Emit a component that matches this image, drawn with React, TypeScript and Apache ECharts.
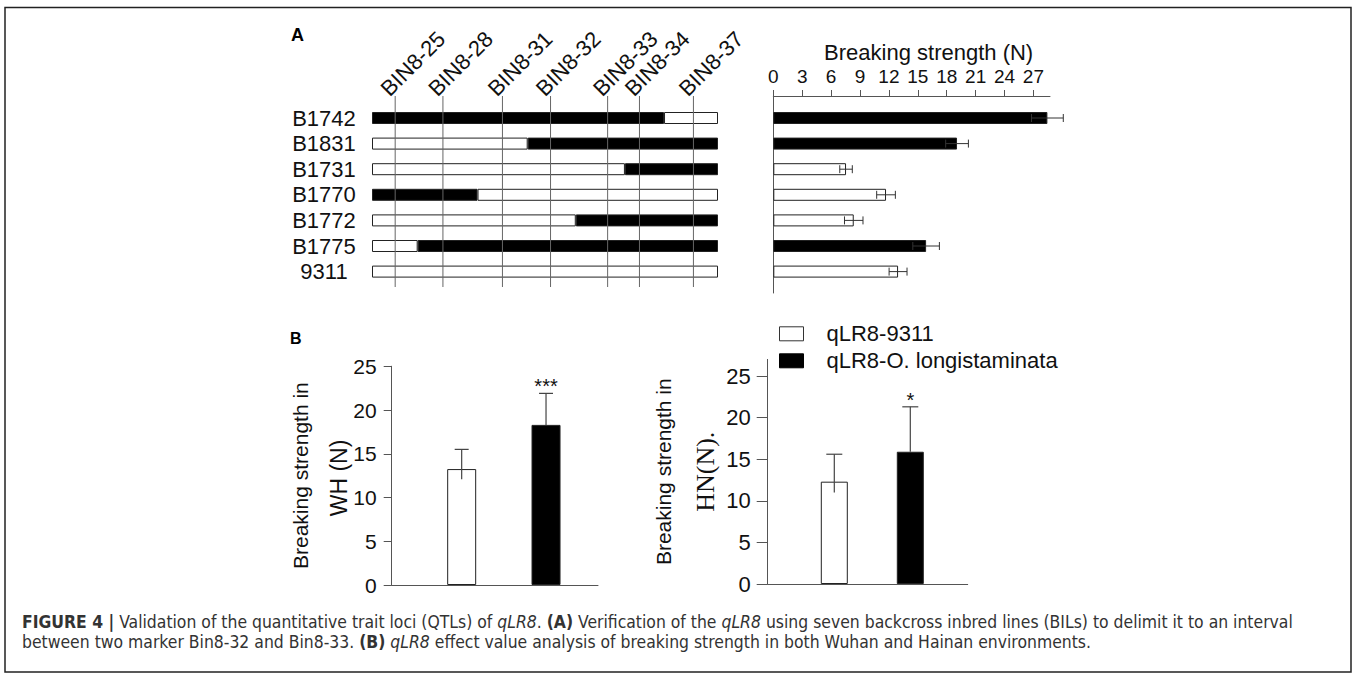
import React, { useEffect, useRef } from "react";
import * as echarts from "echarts";

const FONT = "Liberation Sans, Arial, Helvetica, sans-serif";
const SERIF = "Liberation Serif, Times New Roman, serif";
const NARROW = "Liberation Sans Narrow, DejaVu Sans Condensed, Liberation Sans, sans-serif";

// Panel A — backcross inbred lines and their genotype segments (0–100 along the interval)
const lines = ["B1742", "B1831", "B1731", "B1770", "B1772", "B1775", "9311"];
const boundary = [84.4, 45.0, 73.1, 30.5, 58.9, 13.2, 100];
const firstSegBlack = [true, false, false, true, false, false, false];
const markerNames = ["BIN8-25", "BIN8-28", "BIN8-31", "BIN8-32", "BIN8-33", "BIN8-34", "BIN8-37"];
const markerPos = [6.7, 20.5, 37.7, 51.6, 68.1, 77.3, 92.9];

// Panel A — breaking strength (N) per line
const strengthMean = [28.45, 19.07, 7.55, 11.7, 8.35, 15.86, 12.95];
const strengthErr = [1.65, 1.18, 0.65, 0.97, 0.96, 1.38, 0.93];
const strongAllele = [true, true, false, false, false, true, false];
const ticksA = [0, 3, 6, 9, 12, 15, 18, 21, 24, 27];

// Panel B — qLR8 effect
const genotypes = ["qLR8-9311", "qLR8-O. longistaminata"];
const whMean = [13.25, 18.3];
const whUp = [2.25, 3.6];
const whDown = [1.15, 0];
const whSig = ["", "***"];
const hnMean = [12.3, 15.9];
const hnUp = [3.3, 5.4];
const hnDown = [1.3, 0];
const hnSig = ["", "*"];
const ticksB = [0, 5, 10, 15, 20, 25];

const captionLine1 =
  "{b|FIGURE 4 |} Validation of the quantitative trait loci (QTLs) of {i|qLR8}. {b|(A)} Verification of the {i|qLR8} using seven backcross inbred lines (BILs) to delimit it to an interval";
const captionLine2 =
  "between two marker Bin8-32 and Bin8-33. {b|(B)} {i|qLR8} effect value analysis of breaking strength in both Wuhan and Hainan environments.";

const AXIS_COLOR = "#555";
const TEXT_COLOR = "#111";
const CAP_SIZE = 17.4;

function hiddenValue(gridIndex: number, min: number, max: number, extra: any = {}) {
  return { type: "value", gridIndex, min, max, show: false, ...extra };
}

// value axis that only carries a name (no line, ticks or labels)
function nameOnlyValue(gridIndex: number, min: number, max: number, name: string, nameGap: number, textStyle: any) {
  return {
    type: "value",
    gridIndex,
    min,
    max,
    axisLine: { show: false },
    axisTick: { show: false },
    axisLabel: { show: false },
    splitLine: { show: false },
    name,
    nameLocation: "middle",
    nameRotate: 90,
    nameGap,
    nameTextStyle: textStyle,
  };
}

function vErrorRender(sig: string[], cap: number) {
  return (params: any, api: any) => {
    const i = api.value(0);
    const m = api.value(1);
    const up = api.value(2);
    const dn = api.value(3);
    const hi = api.coord([i, m + up]);
    const lo = api.coord([i, m - dn]);
    const st = { stroke: "#444", lineWidth: 1.2 };
    const children: any[] = [
      { type: "line", shape: { x1: lo[0], y1: lo[1], x2: hi[0], y2: hi[1] }, style: st },
      { type: "line", shape: { x1: hi[0] - cap, y1: hi[1], x2: hi[0] + cap, y2: hi[1] }, style: st },
    ];
    const s = sig[params.dataIndex];
    if (s) {
      children.push({
        type: "text",
        x: hi[0],
        y: hi[1] + 3,
        style: { text: s, fontSize: 20, fontFamily: FONT, fill: TEXT_COLOR, align: "center", verticalAlign: "bottom" },
      });
    }
    return { type: "group", children };
  };
}

export default function App() {
  const ref = useRef<HTMLDivElement>(null);
  useEffect(() => {
    if (!ref.current) return;
    const chart = echarts.init(ref.current, undefined, { renderer: "svg" });

    const grids = [
      { left: 372, top: 96, width: 346, height: 191 }, // 0 A-left frame
      { left: 372, top: 105.2, width: 346, height: 179.2 }, // 1 A-left data
      { left: 773.3, top: 96, width: 276.7, height: 197 }, // 2 A-right frame
      { left: 773.3, top: 105.2, width: 276.7, height: 179.2 }, // 3 A-right data
      { left: 391.7, top: 366.25, width: 206.3, height: 218.75 }, // 4 B-left frame
      { left: 419.5, top: 366.25, width: 168.7, height: 218.75 }, // 5 B-left data
      { left: 767.7, top: 359.4, width: 200, height: 224.6 }, // 6 B-right frame
      { left: 796.3, top: 359.4, width: 152, height: 224.6 }, // 7 B-right data
    ];

    const xAxis: any[] = [
      hiddenValue(0, 0, 100),
      hiddenValue(1, 0, 100),
      {
        type: "value",
        gridIndex: 2,
        position: "top",
        min: 0,
        max: 28.72,
        axisLine: { show: true, onZero: false, lineStyle: { color: AXIS_COLOR, width: 1 } },
        axisTick: { show: true, length: 6, customValues: ticksA, lineStyle: { color: AXIS_COLOR } },
        axisLabel: { show: true, customValues: ticksA, margin: 10, fontSize: 19, fontFamily: FONT, color: TEXT_COLOR },
        splitLine: { show: false },
        name: "Breaking strength (N)",
        nameLocation: "middle",
        nameGap: 33,
        nameTextStyle: { fontSize: 22, fontFamily: FONT, color: TEXT_COLOR, padding: [0, 0, 0, 34] },
      },
      hiddenValue(3, 0, 28.72),
      {
        type: "value",
        gridIndex: 4,
        min: 0,
        max: 1,
        axisLine: { show: true, lineStyle: { color: AXIS_COLOR, width: 1 } },
        axisTick: { show: false },
        axisLabel: { show: false },
        splitLine: { show: false },
      },
      { type: "category", gridIndex: 5, data: genotypes, show: false },
      {
        type: "value",
        gridIndex: 6,
        min: 0,
        max: 1,
        axisLine: { show: true, lineStyle: { color: AXIS_COLOR, width: 1 } },
        axisTick: { show: false },
        axisLabel: { show: false },
        splitLine: { show: false },
      },
      { type: "category", gridIndex: 7, data: genotypes, show: false },
    ];

    const yAxis: any[] = [
      hiddenValue(0, 0, 1),
      {
        type: "category",
        gridIndex: 1,
        data: lines,
        inverse: true,
        axisLine: { show: false },
        axisTick: { show: false },
        axisLabel: { show: true, interval: 0, margin: 48, align: "center", fontSize: 22, fontFamily: FONT, color: TEXT_COLOR },
      },
      {
        type: "value",
        gridIndex: 2,
        min: 0,
        max: 1,
        axisLine: { show: true, onZero: false, lineStyle: { color: AXIS_COLOR, width: 1 } },
        axisTick: { show: false },
        axisLabel: { show: false },
        splitLine: { show: false },
      },
      { type: "category", gridIndex: 3, data: lines, inverse: true, show: false },
      {
        type: "value",
        gridIndex: 4,
        min: 0,
        max: 25,
        axisLine: { show: true, lineStyle: { color: AXIS_COLOR, width: 1 } },
        axisTick: { show: true, length: 8, customValues: ticksB, lineStyle: { color: AXIS_COLOR } },
        axisLabel: { show: true, customValues: ticksB, margin: 15, fontSize: 21, fontFamily: FONT, color: TEXT_COLOR },
        splitLine: { show: false },
        name: "Breaking strength in",
        nameLocation: "middle",
        nameRotate: 90,
        nameGap: 79,
        nameTextStyle: { fontSize: 21, fontFamily: FONT, color: TEXT_COLOR, lineHeight: 24 },
      },
      hiddenValue(5, 0, 25),
      {
        type: "value",
        gridIndex: 6,
        min: 0,
        max: 27,
        axisLine: { show: true, lineStyle: { color: AXIS_COLOR, width: 1 } },
        axisTick: { show: true, length: 11, customValues: ticksB, lineStyle: { color: AXIS_COLOR } },
        axisLabel: { show: true, customValues: ticksB, margin: 17, fontSize: 22, fontFamily: FONT, color: TEXT_COLOR },
        splitLine: { show: false },
        name: "Breaking strength in",
        nameLocation: "middle",
        nameRotate: 90,
        nameGap: 92,
        nameTextStyle: { fontSize: 21, fontFamily: FONT, color: TEXT_COLOR, lineHeight: 24 },
      },
      nameOnlyValue(7, 0, 27, "HN(N).", 78, { fontSize: 26, fontFamily: SERIF, color: TEXT_COLOR, lineHeight: 26 }),
    ];

    const barStyle = { borderColor: "#222", borderWidth: 1 };

    const series: any[] = [
      {
        type: "bar",
        name: "seg1",
        xAxisIndex: 1,
        yAxisIndex: 1,
        stack: "geno",
        barWidth: 12,
        data: boundary.map((b, i) => ({ value: b, itemStyle: { color: firstSegBlack[i] ? "#000" : "#fff" } })),
        itemStyle: barStyle,
      },
      {
        type: "bar",
        name: "seg2",
        xAxisIndex: 1,
        yAxisIndex: 1,
        stack: "geno",
        barWidth: 12,
        data: boundary.map((b, i) =>
          b >= 100 ? "-" : { value: 100 - b, itemStyle: { color: firstSegBlack[i] ? "#fff" : "#000" } }
        ),
        itemStyle: barStyle,
      },
      {
        type: "custom",
        name: "markers",
        xAxisIndex: 0,
        yAxisIndex: 0,
        z: 5,
        data: markerPos.map((p) => [p]),
        encode: { x: 0 },
        renderItem: (params: any, api: any) => {
          const x = api.value(0);
          const top = api.coord([x, 1]);
          const bot = api.coord([x, 0]);
          return {
            type: "group",
            children: [
              {
                type: "line",
                shape: { x1: top[0], y1: top[1], x2: bot[0], y2: bot[1] },
                style: { stroke: "#666", lineWidth: 1 },
              },
              {
                type: "text",
                x: top[0] - 3,
                y: top[1] + 4,
                rotation: Math.PI / 4,
                style: {
                  text: markerNames[params.dataIndex],
                  fontSize: 22,
                  fontFamily: FONT,
                  fill: TEXT_COLOR,
                  align: "left",
                  verticalAlign: "bottom",
                },
              },
            ],
          };
        },
      },
      {
        type: "bar",
        name: "strength",
        xAxisIndex: 3,
        yAxisIndex: 3,
        barWidth: 12,
        data: strengthMean.map((m, i) => ({ value: m, itemStyle: { color: strongAllele[i] ? "#000" : "#fff" } })),
        itemStyle: barStyle,
      },
      {
        type: "custom",
        name: "strengthErr",
        xAxisIndex: 3,
        yAxisIndex: 3,
        z: 5,
        data: strengthMean.map((m, i) => [m, i, strengthErr[i]]),
        encode: { x: 0, y: 1 },
        renderItem: (params: any, api: any) => {
          const m = api.value(0);
          const i = api.value(1);
          const e = api.value(2);
          const lo = api.coord([m - e, i]);
          const hi = api.coord([m + e, i]);
          const st = { stroke: "#333", lineWidth: 1 };
          return {
            type: "group",
            children: [
              { type: "line", shape: { x1: lo[0], y1: lo[1], x2: hi[0], y2: hi[1] }, style: st },
              { type: "line", shape: { x1: hi[0], y1: hi[1] - 4, x2: hi[0], y2: hi[1] + 4 }, style: st },
              { type: "line", shape: { x1: lo[0], y1: lo[1] - 4, x2: lo[0], y2: lo[1] + 4 }, style: st },
            ],
          };
        },
      },
    ];

    const bPanels = [
      { xi: 5, mean: whMean, up: whUp, dn: whDown, sig: whSig, bw: 29, cap: 7 },
      { xi: 7, mean: hnMean, up: hnUp, dn: hnDown, sig: hnSig, bw: 27, cap: 8 },
    ];
    bPanels.forEach((p) => {
      genotypes.forEach((g, gi) => {
        series.push({
          type: "bar",
          name: g,
          xAxisIndex: p.xi,
          yAxisIndex: p.xi,
          barWidth: p.bw,
          barGap: "-100%",
          data: genotypes.map((_, ci) => (ci === gi ? p.mean[ci] : "-")),
          itemStyle: { color: gi === 0 ? "#fff" : "#000", borderColor: "#222", borderWidth: 1 },
        });
      });
      series.push({
        type: "custom",
        name: "err" + p.xi,
        xAxisIndex: p.xi,
        yAxisIndex: p.xi,
        z: 5,
        data: p.mean.map((m, i) => [i, m, p.up[i], p.dn[i]]),
        encode: { x: 0, y: 1 },
        renderItem: vErrorRender(p.sig, p.cap),
      });
    });

    const capRich = {
      b: { fontSize: CAP_SIZE, fontFamily: NARROW, fontWeight: "bold", color: "#222" },
      i: { fontSize: CAP_SIZE, fontFamily: NARROW, fontStyle: "italic", color: "#333" },
    };

    const option: any = {
      animation: false,
      backgroundColor: "#fff",
      grid: grids,
      xAxis,
      yAxis,
      series,
      legend: {
        data: [
          { name: genotypes[0], itemStyle: { color: "#fff", borderColor: "#333", borderWidth: 1 } },
          { name: genotypes[1], itemStyle: { color: "#000", borderColor: "#000", borderWidth: 1 } },
        ],
        orient: "vertical",
        left: 779,
        top: 322.8,
        padding: 0,
        icon: "rect",
        itemWidth: 24,
        itemHeight: 14,
        itemGap: 5,
        selectedMode: false,
        textStyle: { fontSize: 22, fontFamily: FONT, color: TEXT_COLOR, padding: [0, 0, 0, 18] },
      },
      graphic: [
        {
          type: "rect",
          silent: true,
          shape: { x: 5, y: 7.5, width: 1346, height: 664.5 },
          style: { fill: "none", stroke: "#222", lineWidth: 1.5 },
        },
        {
          type: "text",
          x: 291,
          y: 34.5,
          style: { text: "A", fontSize: 18, fontWeight: "bold", fontFamily: FONT, fill: "#000", verticalAlign: "middle" },
        },
        {
          type: "text",
          x: 290,
          y: 338,
          style: { text: "B", fontSize: 16, fontWeight: "bold", fontFamily: FONT, fill: "#000", verticalAlign: "middle" },
        },
        {
          type: "text",
          x: 339,
          y: 478,
          rotation: Math.PI / 2,
          style: {
            text: "WH (N)",
            fontSize: 23,
            fontFamily: FONT,
            fill: TEXT_COLOR,
            align: "center",
            verticalAlign: "middle",
          },
        },
        {
          type: "text",
          x: 22,
          y: 622,
          style: {
            text: captionLine1,
            fontSize: CAP_SIZE,
            fontFamily: NARROW,
            fill: "#333",
            verticalAlign: "middle",
            rich: capRich,
          },
        },
        {
          type: "text",
          x: 22,
          y: 642,
          style: {
            text: captionLine2,
            fontSize: CAP_SIZE,
            fontFamily: NARROW,
            fill: "#333",
            verticalAlign: "middle",
            rich: capRich,
          },
        },
      ],
    };

    chart.setOption(option);
    return () => chart.dispose();
  }, []);

  return <div ref={ref} style={{ position: "fixed", left: 0, top: 0, width: 1357, height: 681 }} />;
}
